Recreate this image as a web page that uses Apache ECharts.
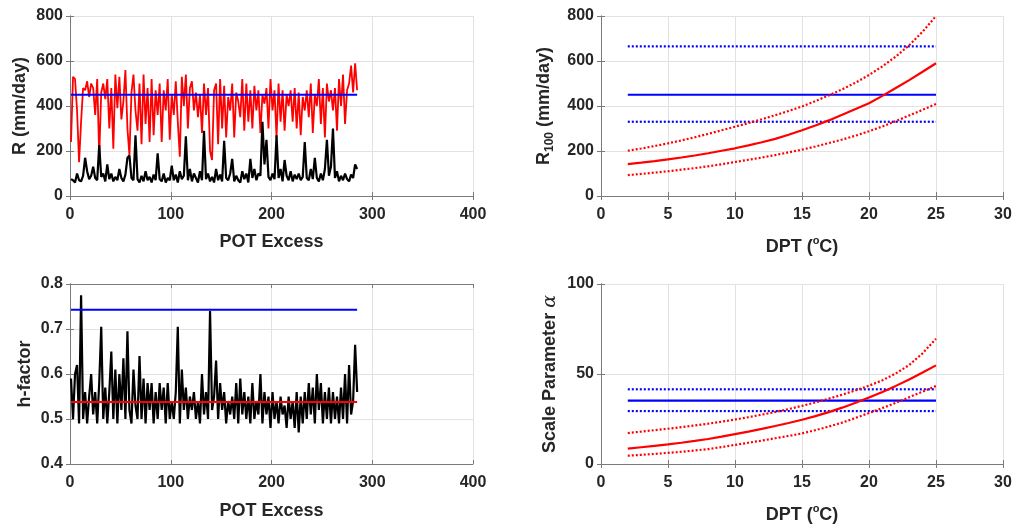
<!DOCTYPE html>
<html>
<head>
<meta charset="utf-8">
<script src="https://cdn.jsdelivr.net/npm/echarts@6/dist/echarts.min.js"></script>
<style>
html,body{margin:0;padding:0;background:#fff;}
#chart{width:1015px;height:528px;}
</style>
</head>
<body>
<div id="chart"></div>
<script>
// ---------- DATA ----------
// POT excess series (values read at excess index 1,3,5,...,285)
const rRed = [
 240,530,520,380,150,330,480,470,510,440,
 500,480,360,520,175,460,500,430,520,300,
 480,210,540,390,530,340,420,560,300,180,
 460,540,380,290,500,230,540,320,480,240,
 520,270,470,360,500,240,470,380,520,250,
 450,360,510,330,175,530,400,540,300,480,
 510,380,460,350,450,280,500,360,480,200,
 160,470,500,230,520,300,490,260,440,380,
 500,260,460,420,350,520,290,500,330,470,
 300,490,380,470,280,450,410,480,300,520,
 380,470,260,500,330,470,290,450,400,470,
 330,480,300,460,270,440,380,470,350,500,
 280,450,400,520,320,480,260,500,420,470,
 380,480,290,520,400,540,320,470,500,580,
 460,590,470
];
const rBlack = [
 75,70,60,100,70,65,90,170,110,75,
 90,130,80,70,225,85,100,65,140,75,
 100,65,85,70,120,80,65,95,170,180,
 80,70,270,75,60,90,65,110,70,85,
 60,95,70,190,75,65,100,60,80,70,
 135,70,95,60,110,75,90,265,70,120,
 65,100,80,60,110,70,290,75,100,65,
 85,60,120,70,95,65,245,80,70,100,
 165,65,90,70,60,110,75,100,60,165,
 80,120,70,100,90,330,140,250,85,70,
 100,75,270,80,120,65,160,90,70,110,
 65,95,75,100,70,85,240,80,70,120,
 75,170,80,65,100,70,120,250,90,130,
 300,80,110,65,90,70,100,75,65,95,
 80,140,120
];
const hFactor = [
 0.59,0.50,0.60,0.62,0.49,0.775,0.50,0.56,0.49,0.55,
 0.60,0.51,0.56,0.49,0.58,0.705,0.50,0.57,0.49,0.56,
 0.65,0.50,0.61,0.49,0.60,0.52,0.635,0.50,0.695,0.52,
 0.49,0.61,0.53,0.50,0.64,0.50,0.59,0.49,0.58,0.52,
 0.58,0.49,0.56,0.50,0.58,0.52,0.57,0.49,0.58,0.50,
 0.54,0.50,0.56,0.705,0.49,0.61,0.52,0.57,0.50,0.55,
 0.52,0.56,0.50,0.54,0.49,0.60,0.51,0.56,0.50,0.74,
 0.52,0.55,0.63,0.50,0.58,0.52,0.56,0.49,0.54,0.51,
 0.55,0.50,0.58,0.49,0.59,0.51,0.56,0.50,0.55,0.49,
 0.58,0.50,0.54,0.51,0.60,0.49,0.56,0.51,0.55,0.48,
 0.56,0.50,0.54,0.49,0.55,0.51,0.53,0.48,0.55,0.50,
 0.54,0.48,0.56,0.47,0.55,0.49,0.56,0.50,0.58,0.51,
 0.57,0.49,0.60,0.52,0.58,0.49,0.56,0.50,0.57,0.49,
 0.56,0.50,0.55,0.49,0.57,0.50,0.60,0.49,0.62,0.51,
 0.54,0.665,0.56
];
const potRange = [1, 285];
const rStationary = 450;
const hUpper = 0.743;
const hMean = 0.538;

// DPT-dependent curves
const dpt = [2,3,4,5,6,7,8,9,10,11,12,13,14,15,16,17,18,19,20,21,22,23,24,25];
const r100 = [142,148,155,163,171,180,190,201,212,225,239,254,272,292,313,336,361,387,412,445,480,515,552,590];
const r100Up = [201,211,222,234,247,261,276,292,308,324,341,359,378,398,422,447,474,504,538,576,620,670,730,800];
const r100Lo = [93,98,104,110,117,124,132,141,151,161,171,182,194,206,220,235,251,268,288,309,333,358,383,409];
const r100Stat = [450, 665, 330]; // mean, upper, lower
const alpha = [8.5,9.3,10.1,10.9,11.8,12.8,13.9,15.2,16.6,18.0,19.5,21.1,22.8,24.6,26.6,28.8,31.3,34.0,36.9,40.0,43.4,47.0,50.8,54.8];
const alphaUp = [17.2,18.0,18.8,19.6,20.5,21.4,22.4,23.5,24.7,26.0,27.4,28.9,30.5,32.3,34.2,36.3,38.5,40.9,43.5,46.5,50.3,55.0,61.5,69.6];
const alphaLo = [4.6,5.1,5.6,6.2,6.8,7.5,8.3,9.4,10.6,11.8,13.0,14.3,15.6,17.0,18.8,20.8,23.0,25.6,28.3,31.1,34.0,37.1,40.2,43.3];
const alphaStat = [35.2, 41.5, 29.4];

// ---------- BUILD ----------
const potX = i => 2 * i + 1;
const pairs = (xs, ys) => ys.map((v, i) => [xs[i], v]);
const potPairs = ys => ys.map((v, i) => [potX(i), v]);
const hline = (x0, x1, y) => [[x0, y], [x1, y]];

const TXT = '#262626';
const AX = '#7a7a7a';
const GRIDC = '#e2e2e2';
const FONT = '"Liberation Sans", Arial, Helvetica, sans-serif';

const grids = [
  {left: 70, width: 403, top: 16, height: 180},
  {left: 601, width: 402, top: 16, height: 180},
  {left: 70, width: 403, top: 284, height: 180},
  {left: 601, width: 402, top: 284, height: 180}
];

const xSpecs = [
  {min: 0, max: 400, interval: 100, name: 'POT Excess', gap: 34},
  {min: 0, max: 30, interval: 5, name: 'DPT ({sup|o}C)', gap: 39},
  {min: 0, max: 400, interval: 100, name: 'POT Excess', gap: 35},
  {min: 0, max: 30, interval: 5, name: 'DPT ({sup|o}C)', gap: 39}
];
const ySpecs = [
  {min: 0, max: 800, interval: 200, name: 'R (mm/day)', gap: 36},
  {min: 0, max: 800, interval: 200, name: 'R{sub|100} (mm/day)', gap: 45},
  {min: 0.4, max: 0.8, interval: 0.1, name: 'h-factor', gap: 31, dec: 1},
  {min: 0, max: 100, interval: 50, name: 'Scale Parameter {it|α}', gap: 39}
];

const richName = {
  sup: {fontSize: 11, fontWeight: 'bold', color: TXT, fontFamily: FONT, verticalAlign: 'top', lineHeight: 10},
  sub: {fontSize: 12, fontWeight: 'bold', color: TXT, fontFamily: FONT, verticalAlign: 'bottom', lineHeight: 13},
  it: {fontSize: 19, fontStyle: 'italic', fontWeight: 'normal', color: TXT, fontFamily: '"DejaVu Serif", serif', lineHeight: 24}
};
const nameStyle = {fontSize: 18, fontWeight: 'bold', color: TXT, fontFamily: FONT, lineHeight: 24, rich: richName};
const labelStyle = {color: TXT, fontSize: 16, fontWeight: 'bold', fontFamily: FONT};

const xAxes = [], yAxes = [];
grids.forEach((g, gi) => {
  const xs = xSpecs[gi], ys = ySpecs[gi];
  xAxes.push({
    type: 'value', gridIndex: gi, position: 'bottom', min: xs.min, max: xs.max, interval: xs.interval,
    name: xs.name, nameLocation: 'middle', nameGap: xs.gap, nameTextStyle: nameStyle,
    axisLine: {show: true, lineStyle: {color: AX, width: 1}},
    axisTick: {show: true, inside: true, length: 4, lineStyle: {color: AX}},
    axisLabel: Object.assign({margin: 11}, labelStyle),
    splitLine: {show: true, lineStyle: {color: GRIDC, width: 1}}
  });
  xAxes.push({
    type: 'value', gridIndex: gi, position: 'top', min: xs.min, max: xs.max, interval: xs.interval,
    axisLine: {show: true, lineStyle: {color: AX, width: 1}},
    axisTick: {show: true, inside: true, length: 4, lineStyle: {color: AX}},
    axisLabel: {show: false}, splitLine: {show: false}
  });
  yAxes.push({
    type: 'value', gridIndex: gi, position: 'left', min: ys.min, max: ys.max, interval: ys.interval,
    name: ys.name, nameLocation: 'middle', nameGap: ys.gap, nameRotate: 90, nameTextStyle: nameStyle,
    axisLine: {show: true, lineStyle: {color: AX, width: 1}},
    axisTick: {show: true, inside: true, length: 4, lineStyle: {color: AX}},
    axisLabel: Object.assign({margin: 7, formatter: v => ys.dec ? v.toFixed(ys.dec) : String(v)}, labelStyle),
    splitLine: {show: true, lineStyle: {color: GRIDC, width: 1}}
  });
  yAxes.push({
    type: 'value', gridIndex: gi, position: 'right', min: ys.min, max: ys.max, interval: ys.interval,
    axisLine: {show: true, lineStyle: {color: AX, width: 1}},
    axisTick: {show: true, inside: true, length: 4, lineStyle: {color: AX}},
    axisLabel: {show: false}, splitLine: {show: false}
  });
});

function line(gi, data, color, width, type, z) {
  return {
    type: 'line', xAxisIndex: gi * 2, yAxisIndex: gi * 2, data: data,
    showSymbol: false, symbol: 'none', animation: false, silent: true, z: z || 2,
    lineStyle: {color: color, width: width, type: type || 'solid'}
  };
}
const RED = '#ff0000', BLUE = '#0000ff', BLACK = '#000000';
const dot = [2, 2];

const series = [
  // panel 1
  line(0, potPairs(rRed), RED, 1.8, 'solid', 2),
  line(0, potPairs(rBlack), BLACK, 2.2, 'solid', 3),
  line(0, hline(potRange[0], potRange[1], rStationary), BLUE, 2, 'solid', 4),
  // panel 2
  line(1, hline(dpt[0], dpt[dpt.length - 1], r100Stat[1]), BLUE, 2.2, dot, 2),
  line(1, hline(dpt[0], dpt[dpt.length - 1], r100Stat[0]), BLUE, 2.2, 'solid', 2),
  line(1, hline(dpt[0], dpt[dpt.length - 1], r100Stat[2]), BLUE, 2.2, dot, 2),
  line(1, pairs(dpt, r100Up), RED, 2.2, dot, 3),
  line(1, pairs(dpt, r100), RED, 2.2, 'solid', 3),
  line(1, pairs(dpt, r100Lo), RED, 2.2, dot, 3),
  // panel 3
  line(2, potPairs(hFactor), BLACK, 2.2, 'solid', 2),
  line(2, hline(potRange[0], potRange[1], hMean), RED, 2, 'solid', 3),
  line(2, hline(potRange[0], potRange[1], hUpper), BLUE, 2, 'solid', 4),
  // panel 4
  line(3, hline(dpt[0], dpt[dpt.length - 1], alphaStat[1]), BLUE, 2.2, dot, 2),
  line(3, hline(dpt[0], dpt[dpt.length - 1], alphaStat[0]), BLUE, 2.2, 'solid', 2),
  line(3, hline(dpt[0], dpt[dpt.length - 1], alphaStat[2]), BLUE, 2.2, dot, 2),
  line(3, pairs(dpt, alphaUp), RED, 2.2, dot, 3),
  line(3, pairs(dpt, alpha), RED, 2.2, 'solid', 3),
  line(3, pairs(dpt, alphaLo), RED, 2.2, dot, 3)
];

const chart = echarts.init(document.getElementById('chart'), null, {renderer: 'canvas'});
chart.setOption({
  backgroundColor: '#ffffff',
  animation: false,
  grid: grids,
  xAxis: xAxes,
  yAxis: yAxes,
  series: series
});
</script>
</body>
</html>
